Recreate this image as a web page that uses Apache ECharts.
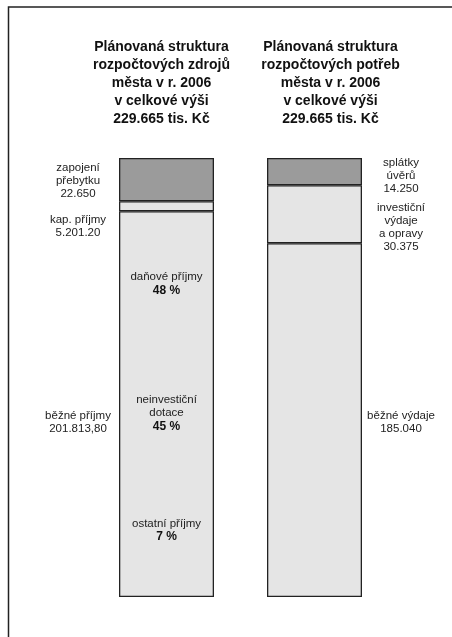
<!DOCTYPE html>
<html>
<head>
<meta charset="utf-8">
<script src="https://cdn.jsdelivr.net/npm/echarts@6/dist/echarts.min.js"></script>
<style>
html,body{margin:0;padding:0;background:#fff;}
#main{width:452px;height:637px;}
</style>
</head>
<body>
<div id="main"></div>
<script>
// ---- data ----
const categories = ['zdroje', 'potřeby'];
const titleTexts = [
  'Plánovaná struktura\nrozpočtových zdrojů\nměsta v r. 2006\nv celkové výši\n229.665 tis. Kč',
  'Plánovaná struktura\nrozpočtových potřeb\nměsta v r. 2006\nv celkové výši\n229.665 tis. Kč'
];
const bottomValues = [201813.80, 185040];
const middleValues = [5201.20, 30375];
const topValues = [22650, 14250];
const bottomLabels = ['běžné příjmy\n201.813,80', 'běžné výdaje\n185.040'];
const middleLabels = ['kap. příjmy\n5.201.20', 'investiční\nvýdaje\na opravy\n30.375'];
const topLabels = ['zapojení\npřebytku\n22.650', 'splátky\núvěrů\n14.250'];
const innerNames = ['daňové příjmy', 'neinvestiční\ndotace', 'ostatní příjmy'];
const innerShares = [48, 45, 7];
const total = 229665;

// ---- styles ----
const FONT = '"Liberation Sans", Arial, sans-serif';
const DARK = '#9b9b9b';
const LIGHT = '#e5e5e5';
const EDGE = '#222';
const BAR_W = 95;
const FS = 11.5;
const LH = 13.2;
const sidePos = [[-41, '50%'], [BAR_W + 39, '50%']];
const offsets = {
  top: [[0, 1], [0, 4]],
  middle: [[0, 20], [0, 13]],
  bottom: [[0, 18], [0, 2]]
};

function outerLabel(text, i, key) {
  return {
    show: true,
    formatter: text,
    position: sidePos[i],
    offset: offsets[key][i],
    align: 'center',
    verticalAlign: 'middle',
    fontFamily: FONT,
    fontSize: FS,
    lineHeight: LH,
    color: '#222'
  };
}

function mkData(values, labels, key) {
  return values.map((v, i) => ({ value: v, label: outerLabel(labels[i], i, key) }));
}

const innerText =
  innerNames[0] + '\n{b|' + innerShares[0] + ' %}\n{g1| }\n' +
  innerNames[1] + '\n{b|' + innerShares[1] + ' %}\n{g2| }\n' +
  innerNames[2] + '\n{b|' + innerShares[2] + ' %}';

const barCommon = {
  type: 'bar',
  barWidth: BAR_W,
  barGap: '-100%',
  emphasis: { disabled: true },
  silent: true
};

const chart = echarts.init(document.getElementById('main'), null, { renderer: 'canvas' });
chart.setOption({
  animation: false,
  backgroundColor: '#fff',
  title: titleTexts.map((t, i) => ({
    text: t,
    left: i === 0 ? 156.5 : 325.5,
    top: 33,
    textAlign: 'center',
    textStyle: {
      fontFamily: FONT,
      fontSize: 14,
      fontWeight: 'bold',
      lineHeight: 18,
      color: '#111'
    }
  })),
  graphic: [{
    type: 'rect',
    shape: { x: 8.5, y: 7, width: 700, height: 800 },
    style: { fill: 'none', stroke: '#222', lineWidth: 1.5 },
    silent: true
  }],
  grid: { left: 92.5, right: 63.5, top: 158, bottom: 40 },
  xAxis: { type: 'category', data: categories, show: false },
  yAxis: { type: 'value', min: 0, max: total, show: false },
  series: [
    Object.assign({}, barCommon, {
      name: 'běžné', stack: 'main',
      itemStyle: { color: LIGHT, borderColor: EDGE, borderWidth: 1.3 },
      data: mkData(bottomValues, bottomLabels, 'bottom')
    }),
    Object.assign({}, barCommon, {
      name: 'kapitálové / investiční', stack: 'main',
      itemStyle: { color: LIGHT, borderColor: EDGE, borderWidth: 1.3 },
      data: mkData(middleValues, middleLabels, 'middle')
    }),
    Object.assign({}, barCommon, {
      name: 'přebytek / splátky', stack: 'main',
      itemStyle: { color: DARK, borderColor: EDGE, borderWidth: 1.3 },
      data: mkData(topValues, topLabels, 'top')
    }),
    Object.assign({}, barCommon, {
      name: 'struktura běžných příjmů', stack: 'inner',
      itemStyle: { color: 'rgba(0,0,0,0)', borderWidth: 0 },
      data: [{
        value: bottomValues[0],
        label: {
          show: true,
          position: 'inside',
          offset: [0, 3],
          formatter: innerText,
          fontFamily: FONT,
          fontSize: FS,
          lineHeight: 13.5,
          color: '#222',
          align: 'center',
          rich: {
            b: { fontFamily: FONT, fontSize: 12, fontWeight: 'bold', lineHeight: 13.5, color: '#111' },
            g1: { fontSize: 2, lineHeight: 95.5 },
            g2: { fontSize: 2, lineHeight: 83.5 }
          }
        }
      }, '-']
    })
  ]
});
</script>
</body>
</html>
